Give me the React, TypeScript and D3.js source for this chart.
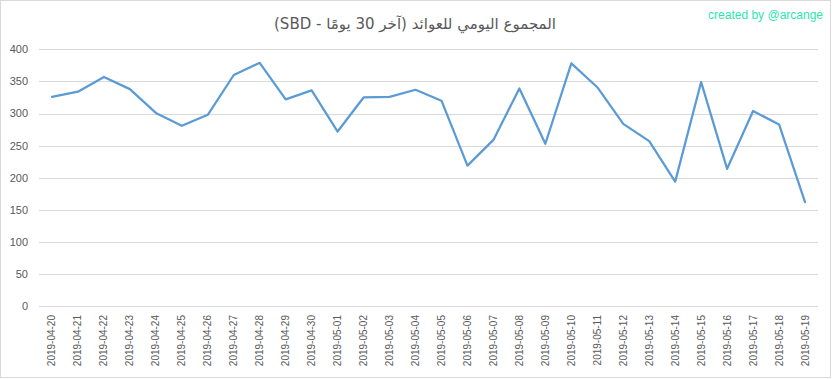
import React from "react";
import * as d3 from "d3";

const dates = [
  "2019-04-20","2019-04-21","2019-04-22","2019-04-23","2019-04-24","2019-04-25",
  "2019-04-26","2019-04-27","2019-04-28","2019-04-29","2019-04-30","2019-05-01",
  "2019-05-02","2019-05-03","2019-05-04","2019-05-05","2019-05-06","2019-05-07",
  "2019-05-08","2019-05-09","2019-05-10","2019-05-11","2019-05-12","2019-05-13",
  "2019-05-14","2019-05-15","2019-05-16","2019-05-17","2019-05-18","2019-05-19",
];
const values = [
  326, 334, 357, 338, 301, 281, 298, 360, 379, 322, 336, 272,
  325, 326, 337, 320, 219, 259, 339, 253, 378, 341, 284, 257,
  194, 349, 214, 304, 283, 162,
];
const yTicks = [0, 50, 100, 150, 200, 250, 300, 350, 400];
const title = "المجموع اليومي للعوائد (آخر 30 يومًا - SBD)";
const watermark = "created by @arcange";

const W = 833, H = 379;
const plot = { left: 39, right: 818, top: 49.3, bottom: 306.3 };

export default function App() {
  const x = d3.scaleBand<string>().domain(dates).range([plot.left, plot.right]);
  const y = d3.scaleLinear().domain([0, 400]).range([plot.bottom, plot.top]);
  const line = d3.line<number>()
    .x((_, i) => (x(dates[i]) as number) + x.bandwidth() / 2)
    .y((d) => y(d));
  const font = "'Liberation Sans', Arial, sans-serif";
  return (
    <svg width={W} height={H} style={{ position: "absolute", left: 0, top: 0, background: "#fff" }}>
      <rect x={0.5} y={0.5} width={830} height={377} fill="#fff" stroke="#d9d9d9" strokeWidth={1} />
      <text x={415} y={29} textAnchor="middle" direction="rtl" fontSize={15}
        fontFamily="'DejaVu Sans', sans-serif" fill="#595959">{title}</text>
      <text x={823} y={19} textAnchor="end" fontSize={12} fontFamily={font} fill="#2ee6ad">{watermark}</text>
      {yTicks.map((t) => (
        <g key={t}>
          <line x1={plot.left} x2={plot.right} y1={Math.round(y(t)) + 0.5} y2={Math.round(y(t)) + 0.5}
            stroke="#d9d9d9" strokeWidth={1} />
          <text x={28} y={y(t)} dy="0.35em" textAnchor="end" fontSize={11} fontFamily={font} fill="#595959">{t}</text>
        </g>
      ))}
      {dates.map((d) => {
        const cx = (x(d) as number) + x.bandwidth() / 2;
        return (
          <text key={d} transform={`translate(${cx + 3.5},315) rotate(-90)`} textAnchor="end"
            fontSize={10} fontFamily={font} fill="#595959">{d}</text>
        );
      })}
      <path d={line(values) || ""} fill="none" stroke="#5b9bd5" strokeWidth={2.25}
        strokeLinejoin="round" strokeLinecap="round" />
    </svg>
  );
}
